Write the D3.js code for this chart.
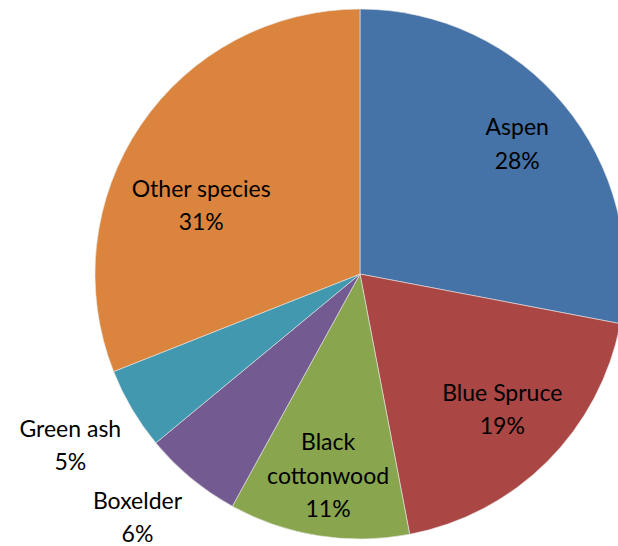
<!DOCTYPE html>
<html>
<head>
<meta charset="utf-8">
<script src="https://cdn.jsdelivr.net/npm/d3@7"></script>
<style>
  html, body { margin: 0; padding: 0; background: #fff; }
  svg { display: block; }
</style>
</head>
<body>
<svg id="chart" width="618" height="546"></svg>
<script>
// chart data
const species = ['Aspen', 'Blue Spruce', 'Black cottonwood', 'Boxelder', 'Green ash', 'Other species'];
const shares = [28, 19, 11, 6, 5, 31];
const labelLines = [['Aspen'], ['Blue Spruce'], ['Black', 'cottonwood'], ['Boxelder'], ['Green ash'], ['Other species']];
const colors = ['#4572A7', '#AA4643', '#89A54E', '#735A91', '#4198AF', '#DB843D'];

const svg = d3.select('#chart');
const cx = 360, cy = 274, radius = 265;
const g = svg.append('g').attr('transform', `translate(${cx},${cy})`);

const pie = d3.pie().sort(null).value(d => d.value);
const arcs = pie(species.map((s, i) => ({ name: s, value: shares[i], lines: labelLines[i], color: colors[i] })));

const arc = d3.arc().innerRadius(0).outerRadius(radius);
const insideArc = d3.arc().innerRadius(radius * 0.77).outerRadius(radius * 0.77);
const outsideArc = d3.arc().innerRadius(radius * 1.27).outerRadius(radius * 1.27);

g.selectAll('path.slice')
  .data(arcs)
  .enter()
  .append('path')
  .attr('class', 'slice')
  .attr('d', arc)
  .attr('fill', d => d.data.color)
  .attr('stroke', '#e8e8e8')
  .attr('stroke-width', 0.6);

// small slices get their labels outside, like the original
const isOutside = d => d.data.value < 8;
// nudges so labels sit where the source app put them
const nudge = { 'Other species': [10, 46], 'Blue Spruce': [-2, -9], 'Boxelder': [-8, -16] };

const lineH = 33.5;
const labels = g.selectAll('text.lbl')
  .data(arcs)
  .enter()
  .append('text')
  .attr('class', 'lbl')
  .attr('text-anchor', 'middle')
  .attr('font-family', 'Lato, "Open Sans", sans-serif')
  .attr('font-size', 23)
  .attr('fill', '#000')
  .attr('transform', d => {
    const c = (isOutside(d) ? outsideArc : insideArc).centroid(d);
    const n = nudge[d.data.name] || [0, 0];
    return `translate(${c[0] + n[0]},${c[1] + n[1]})`;
  });

labels.each(function (d) {
  const lines = d.data.lines.concat([d.data.value + '%']);
  const t = d3.select(this);
  const top = -(lines.length - 1) * lineH / 2;
  lines.forEach((ln, i) => {
    t.append('tspan')
      .attr('x', 0)
      .attr('y', top + i * lineH)
      .attr('dy', '0.35em')
      .text(ln);
  });
});
</script>
</body>
</html>
